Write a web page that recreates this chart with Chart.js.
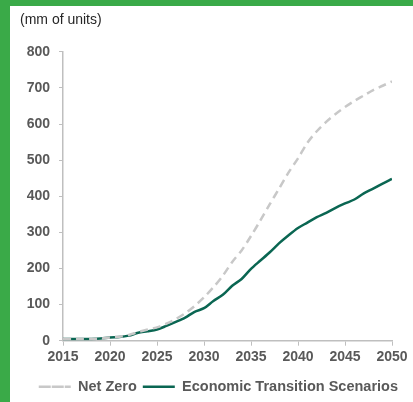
<!DOCTYPE html>
<html>
<head>
<meta charset="utf-8">
<script src="https://cdn.jsdelivr.net/npm/chart.js@4"></script>
<style>
  html, body { margin: 0; padding: 0; background: #fff; }
  body { width: 413px; height: 402px; overflow: hidden; }
  #frame {
    position: absolute; left: 0; top: 0;
    width: 403px; height: 396px;
    border-left: 10px solid #3aaa48;
    border-top: 6px solid #3aaa48;
    background: #fff;
  }
  #wrap { position: relative; width: 403px; height: 396px; }
</style>
</head>
<body>
<div id="frame"><div id="wrap"><canvas id="myChart"></canvas></div></div>
<script>
// years on the x axis
const years = [];
for (let y = 2015; y <= 2050; y++) years.push(y);

const xTicks = [2015, 2020, 2025, 2030, 2035, 2040, 2045, 2050];
const yTicks = [0, 100, 200, 300, 400, 500, 600, 700, 800];

// values (mm of units)
const netZero = [5, 5, 5, 5, 6, 9, 11, 16, 24, 31,
                 37, 47, 60, 76, 96, 120, 148, 180, 218, 250,
                 290, 333, 378, 422, 466, 505, 548, 580, 606, 628,
                 647, 664, 679, 694, 706, 718];
const econTransition = [5, 5, 5, 5, 6, 9, 10, 14, 22, 26,
                        31, 41, 52, 64, 80, 90, 110, 127, 152, 171,
                        199, 222, 245, 270, 292, 312, 327, 342, 354, 368,
                        380, 391, 408, 421, 435, 448];

const tickFont = { family: 'Liberation Sans, Arial, sans-serif', size: 14, weight: 'bold' };

// nudge the legend a little right and down, like the original
const legendShift = {
    id: 'legendShift',
    afterLayout(chart) {
        const lg = chart.legend;
        lg.left += 12; lg.right += 12;
        lg.top += 5; lg.bottom += 5;
    }
};

const ctx = document.getElementById('myChart').getContext('2d');
const myChart = new Chart(ctx, {
    type: 'line',
    data: {
        datasets: [{
            label: 'Net Zero',
            data: years.map((y, i) => ({ x: y, y: netZero[i] })),
            borderColor: '#c8c8c8',
            backgroundColor: '#c8c8c8',
            borderWidth: 2.5,
            borderDash: [8, 5],
            pointRadius: 0,
            tension: 0.3,
            fill: false
        }, {
            label: 'Economic Transition Scenarios',
            data: years.map((y, i) => ({ x: y, y: econTransition[i] })),
            borderColor: '#0a6652',
            backgroundColor: '#0a6652',
            borderWidth: 2.5,
            pointRadius: 0,
            tension: 0.3,
            fill: false
        }]
    },
    plugins: [legendShift],
    options: {
        responsive: true,
        maintainAspectRatio: false,
        animation: false,
        layout: { padding: { left: 10, right: 21, top: 6, bottom: 3 } },
        plugins: {
            title: {
                display: true,
                text: '(mm of units)',
                align: 'start',
                color: '#262626',
                font: { family: 'Liberation Sans, Arial, sans-serif', size: 14, weight: 'normal' },
                padding: { top: 0, bottom: 23 }
            },
            legend: {
                position: 'bottom',
                align: 'end',
                labels: {
                    color: '#595959',
                    font: { family: 'Liberation Sans, Arial, sans-serif', size: 14.5, weight: 'bold' },
                    boxWidth: 32,
                    boxHeight: 0,
                    padding: 6
                }
            },
            tooltip: { enabled: false }
        },
        scales: {
            x: {
                type: 'linear',
                min: 2015,
                max: 2050,
                afterBuildTicks: axis => { axis.ticks = xTicks.map(v => ({ value: v })); },
                ticks: {
                    color: '#595959',
                    font: tickFont,
                    padding: 3,
                    maxRotation: 0,
                    callback: v => String(v)
                },
                grid: { drawOnChartArea: false, color: '#bfbfbf', tickLength: 5 },
                border: { color: '#bfbfbf', width: 1.5 }
            },
            y: {
                min: 0,
                max: 800,
                afterBuildTicks: axis => { axis.ticks = yTicks.map(v => ({ value: v })); },
                afterFit: axis => { axis.width = 43; },
                ticks: {
                    color: '#595959',
                    font: tickFont,
                    padding: 9
                },
                grid: { drawOnChartArea: false, color: '#bfbfbf', tickLength: 4 },
                border: { color: '#bfbfbf', width: 1.5 }
            }
        }
    }
});
</script>
</body>
</html>
